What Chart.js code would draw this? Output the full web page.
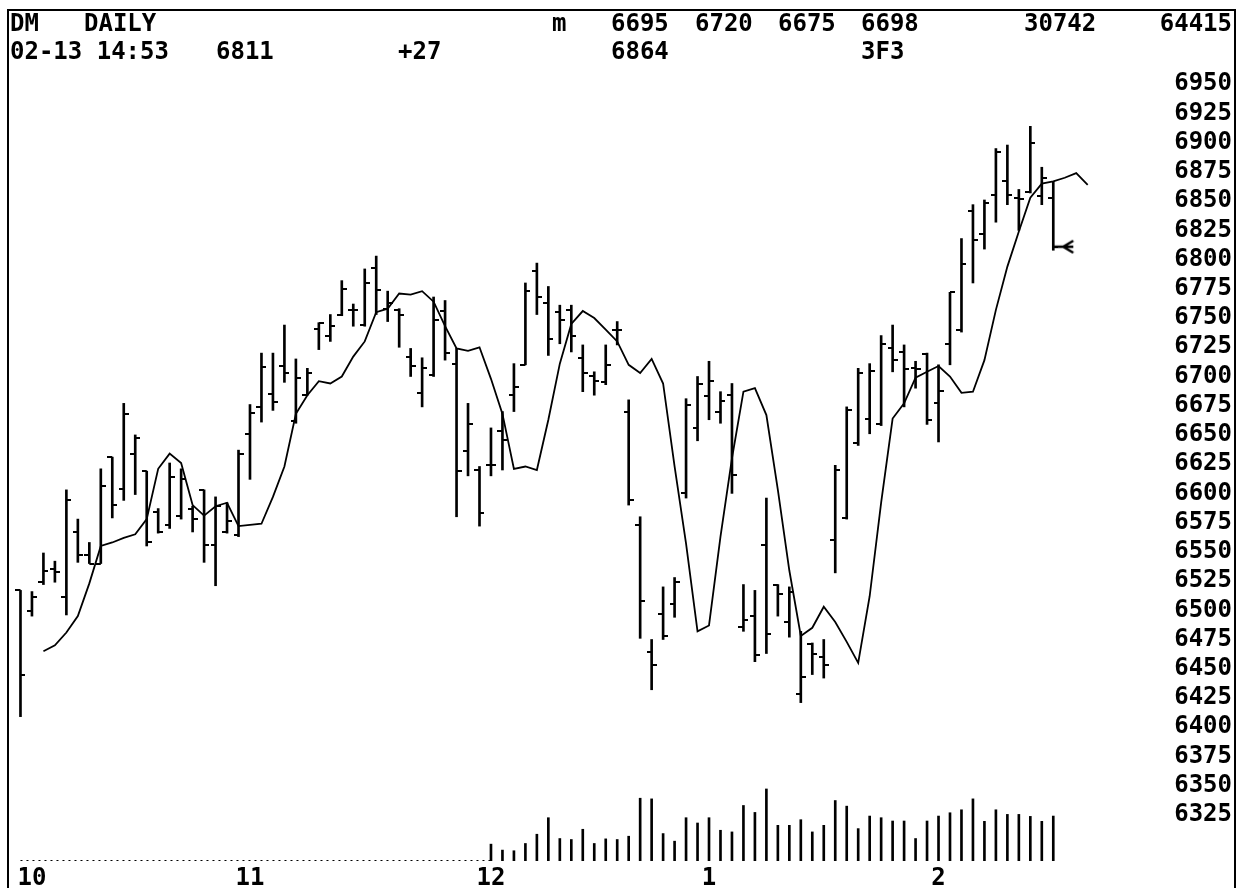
<!DOCTYPE html>
<html>
<head>
<meta charset="utf-8">
<title>DM DAILY</title>
<script src="https://cdn.jsdelivr.net/npm/chart.js@4.4.1/dist/chart.umd.min.js"></script>
<style>
  body { margin: 0; background: #fff; }
  #wrap { position: relative; width: 1243px; height: 888px; overflow: hidden; }
  #frame { position: absolute; left: 7px; top: 9px; width: 1225px; height: 900px; border: 2px solid #000; pointer-events: none; }
  .hd { position: absolute; font: bold 24px 'DejaVu Sans Mono', monospace; line-height: 24px; white-space: pre; color: #000; }
</style>
</head>
<body>
<div id="wrap">
  <canvas id="dm-chart" width="1243" height="888"></canvas>
  <div id="frame"></div>
  <!-- quote line -->
  <div class="hd" style="left:10px;top:11px">DM</div>
  <div class="hd" style="left:84px;top:11px">DAILY</div>
  <div class="hd" style="left:552px;top:11px">m</div>
  <div class="hd" style="left:611px;top:11px">6695</div>
  <div class="hd" style="left:695px;top:11px">6720</div>
  <div class="hd" style="left:778px;top:11px">6675</div>
  <div class="hd" style="left:861px;top:11px">6698</div>
  <div class="hd" style="left:1024px;top:11px">30742</div>
  <div class="hd" style="right:11px;top:11px">64415</div>
  <div class="hd" style="left:10px;top:39px">02-13 14:53</div>
  <div class="hd" id="last-price" style="left:216px;top:39px"></div>
  <div class="hd" style="left:398px;top:39px">+27</div>
  <div class="hd" id="last-avg" style="left:611px;top:39px"></div>
  <div class="hd" style="left:861px;top:39px">3F3</div>
</div>
<script>
// month markers on the day axis
const monthLabels = ['10', '11', '12', '1', '2'];
const monthStart = [1, 20, 41, 60, 80];

const priceTicks = [6325, 6350, 6375, 6400, 6425, 6450, 6475, 6500, 6525, 6550, 6575, 6600, 6625,
    6650, 6675, 6700, 6725, 6750, 6775, 6800, 6825, 6850, 6875, 6900, 6925, 6950];

// daily bars, one entry per trading day
const opens = [6517, 6499, 6524, 6535, 6511, 6567, 6547, 6540, 6631, 6604,
    6634, 6619, 6584, 6573, 6581, 6587, 6603, 6556, 6567, 6564,
    6651, 6674, 6685, 6709, 6662, 6684, 6741, 6735, 6753, 6757,
    6744, 6793, 6758, 6757, 6717, 6686, 6701, 6756, 6711, 6636,
    6620, 6624, 6653, 6684, 6710, 6790, 6763, 6755, 6757, 6716,
    6700, 6695, 6740, 6670, 6573, 6464, 6497, 6505, 6600, 6656,
    6683, 6670, 6684, 6486, 6495, 6556, 6522, 6490, 6428, 6471,
    6460, 6560, 6579, 6643, 6664, 6659, 6724, 6721, 6707, 6719,
    6677, 6728, 6740, 6842, 6822, 6855, 6867, 6853, 6858, 6854,
    6853];
const highs = [6517, 6516, 6549, 6542, 6603, 6578, 6558, 6621, 6631, 6677,
    6650, 6619, 6587, 6626, 6621, 6589, 6603, 6597, 6592, 6637,
    6676, 6720, 6720, 6744, 6715, 6707, 6746, 6753, 6782, 6762,
    6792, 6803, 6773, 6758, 6724, 6716, 6768, 6765, 6724, 6677,
    6623, 6656, 6670, 6711, 6780, 6797, 6777, 6761, 6761, 6727,
    6704, 6727, 6747, 6680, 6580, 6475, 6520, 6528, 6681, 6700,
    6713, 6687, 6694, 6522, 6517, 6596, 6522, 6520, 6482, 6472,
    6475, 6624, 6674, 6707, 6711, 6735, 6744, 6727, 6713, 6720,
    6710, 6772, 6818, 6847, 6851, 6895, 6898, 6860, 6914, 6879,
    6867];
const lows = [6409, 6495, 6522, 6524, 6496, 6541, 6540, 6540, 6579, 6594,
    6599, 6555, 6566, 6570, 6578, 6567, 6541, 6521, 6566, 6563,
    6612, 6661, 6671, 6695, 6660, 6684, 6723, 6730, 6752, 6743,
    6743, 6753, 6747, 6725, 6700, 6674, 6700, 6714, 6580, 6615,
    6572, 6615, 6620, 6670, 6710, 6753, 6718, 6728, 6721, 6687,
    6684, 6693, 6727, 6590, 6476, 6432, 6475, 6494, 6596, 6645,
    6663, 6660, 6600, 6482, 6456, 6463, 6495, 6477, 6421, 6445,
    6442, 6532, 6578, 6641, 6651, 6658, 6704, 6674, 6690, 6659,
    6644, 6710, 6738, 6780, 6809, 6832, 6847, 6825, 6857, 6847,
    6808];
const closes = [6445, 6511, 6534, 6533, 6594, 6547, 6540, 6606, 6590, 6668,
    6647, 6558, 6567, 6614, 6612, 6578, 6556, 6589, 6576, 6634,
    6669, 6708, 6678, 6703, 6699, 6703, 6746, 6743, 6775, 6757,
    6780, 6774, 6763, 6753, 6709, 6707, 6748, 6720, 6619, 6659,
    6583, 6624, 6646, 6691, 6773, 6768, 6732, 6748, 6735, 6703,
    6696, 6710, 6740, 6594, 6508, 6453, 6478, 6524, 6676, 6694,
    6696, 6679, 6616, 6492, 6462, 6480, 6514, 6516, 6443, 6463,
    6453, 6620, 6671, 6703, 6705, 6728, 6714, 6706, 6706, 6663,
    6688, 6772, 6796, 6817, 6848, 6892, 6855, 6852, 6900, 6870,
    6811];

// displaced moving average, first value sits on day 2
const maStart = 2;
const movingAvg = [6465, 6470, 6481, 6495, 6523, 6555, 6558, 6562, 6565, 6578,
    6621, 6634, 6626, 6590, 6581, 6589, 6592, 6572, 6573, 6574,
    6597, 6623, 6668, 6684, 6696, 6694, 6700, 6717, 6730, 6755,
    6758, 6771, 6770, 6773, 6764, 6743, 6724, 6722, 6725, 6698,
    6668, 6621, 6623, 6620, 6663, 6711, 6745, 6756, 6750, 6740,
    6730, 6710, 6703, 6715, 6694, 6623, 6557, 6482, 6487, 6563,
    6630, 6687, 6690, 6667, 6603, 6534, 6478, 6485, 6503, 6490,
    6473, 6455, 6512, 6592, 6664, 6677, 6699, 6704, 6709, 6700,
    6686, 6687, 6714, 6757, 6794, 6824, 6853, 6865, 6867, 6870,
    6874, 6864];

// volume only recorded from day 41 on
const volStart = 41;
const volumes = [11530, 7460, 7010, 11980, 18310, 29610, 15370, 14690, 21700, 11980,
    15140, 14690, 16950, 42940, 42490, 18760, 13560, 29610, 25990, 29610,
    21020, 19890, 37970, 33220, 49270, 24410, 24410, 28250, 19890, 24410,
    41360, 37520, 22150, 30740, 29610, 27350, 27350, 15370, 27350, 30740,
    33000, 35030, 42490, 27120, 35030, 31870, 31870, 30510, 27120, 30742];

const last = closes.length - 1;
document.getElementById('last-price').textContent = String(closes[last]);
document.getElementById('last-avg').textContent = String(movingAvg[movingAvg.length - 1]);

function tickMark(side) {
    const c = document.createElement('canvas');
    c.width = 10;
    c.height = 2;
    const g = c.getContext('2d');
    g.fillStyle = '#000';
    g.fillRect(side === 'left' ? 0 : 5, 0, 5, 2);
    return c;
}

function lastArrow() {
    const c = document.createElement('canvas');
    c.width = 44;
    c.height = 16;
    const g = c.getContext('2d');
    g.strokeStyle = '#000';
    g.lineWidth = 2.5;
    g.beginPath();
    g.moveTo(22, 8); g.lineTo(42, 8);
    g.moveTo(42, 2); g.lineTo(32, 8); g.lineTo(42, 14);
    g.stroke();
    return c;
}

const font = { family: "'DejaVu Sans Mono', monospace", size: 24, weight: 'bold' };
let ctx = document.getElementById('dm-chart').getContext('2d');

new Chart(ctx, {
    type: 'bar',
    data: {
        datasets: [{
            type: 'bar',
            data: highs.map((h, i) => ({ x: i, y: [lows[i], h] })),
            backgroundColor: '#000',
            barThickness: 2,
            grouped: false,
            yAxisID: 'y'
        }, {
            type: 'line',
            data: opens.map((v, i) => ({ x: i, y: v })),
            showLine: false,
            pointStyle: tickMark('left'),
            pointRadius: 3,
            yAxisID: 'y'
        }, {
            type: 'line',
            data: closes.map((v, i) => ({ x: i, y: v })),
            showLine: false,
            pointStyle: tickMark('right'),
            pointRadius: 3,
            yAxisID: 'y'
        }, {
            type: 'line',
            data: [{ x: last, y: closes[last] }],
            showLine: false,
            pointStyle: lastArrow(),
            pointRadius: 3,
            yAxisID: 'y'
        }, {
            type: 'line',
            data: movingAvg.map((v, k) => ({ x: maStart + k, y: v })),
            borderColor: '#000',
            borderWidth: 1.8,
            pointRadius: 0,
            tension: 0,
            yAxisID: 'y'
        }, {
            type: 'bar',
            data: volumes.map((v, k) => ({ x: volStart + k, y: v })),
            backgroundColor: '#000',
            barThickness: 2,
            grouped: false,
            yAxisID: 'vol'
        }, {
            type: 'line',
            data: [{ x: 0, y: 0 }, { x: volStart, y: 0 }],
            borderColor: '#000',
            borderWidth: 2,
            borderDash: [2, 4],
            pointRadius: 0,
            yAxisID: 'vol'
        }]
    },
    options: {
        responsive: false,
        animation: false,
        events: [],
        layout: { padding: { left: 9, right: 11, top: 70, bottom: 0 } },
        plugins: { legend: { display: false }, tooltip: { enabled: false } },
        scales: {
            x: {
                type: 'linear',
                offset: false,
                min: -1,
                max: 99.3,
                grid: { display: false, drawTicks: false },
                border: { display: false },
                afterBuildTicks: s => { s.ticks = monthStart.map(v => ({ value: v })); },
                afterFit: s => { s.height = 27; },
                ticks: {
                    font: font,
                    color: '#000',
                    padding: 3,
                    maxRotation: 0,
                    autoSkip: false,
                    callback: v => monthLabels[monthStart.indexOf(v)]
                }
            },
            y: {
                position: 'right',
                min: 6285.5,
                max: 6962.2,
                grid: { display: false, drawTicks: false },
                border: { display: false },
                afterBuildTicks: s => { s.ticks = priceTicks.map(v => ({ value: v })); },
                afterFit: s => { s.width = 72; },
                ticks: {
                    font: font,
                    color: '#000',
                    padding: 0,
                    crossAlign: 'far',
                    autoSkip: false,
                    callback: v => String(v)
                }
            },
            vol: {
                display: false,
                min: 0,
                max: 541000
            }
        }
    }
});
</script>
</body>
</html>
